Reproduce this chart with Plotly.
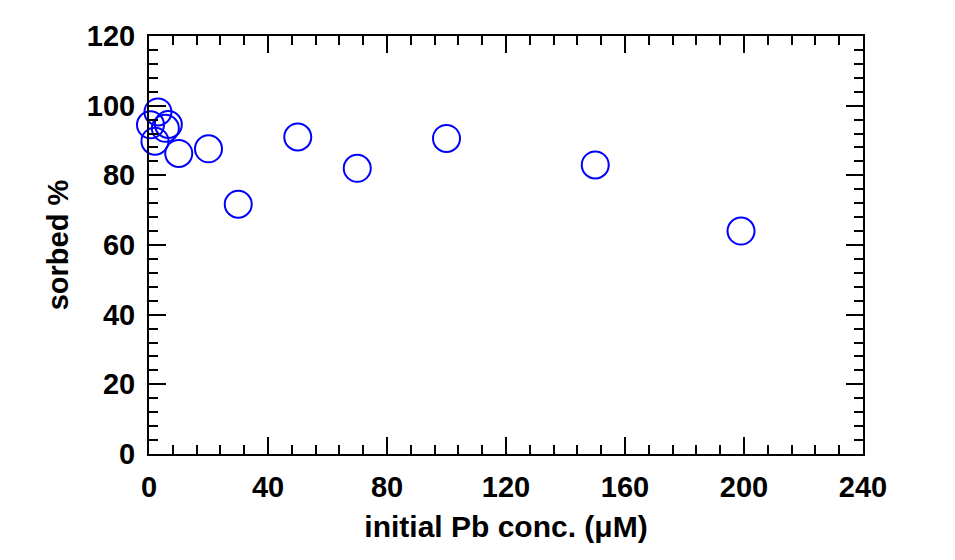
import plotly.graph_objects as go

conc = [0.5, 2, 3, 5.5, 6.5, 10, 20, 30, 50, 70, 100, 150, 199]
sorbed = [94.5, 89.8, 98.2, 93.5, 94.6, 86.3, 87.6, 71.7, 91.0, 82.0, 90.6, 83.0, 64.0]

x_ticks = [0, 40, 80, 120, 160, 200, 240]
y_ticks = [0, 20, 40, 60, 80, 100, 120]

FAM = "Liberation Sans, Arial, sans-serif"

fig = go.Figure()
fig.add_trace(go.Scatter(
    x=conc, y=sorbed, mode="markers",
    marker=dict(symbol="circle-open", size=27, color="#0000ff", line=dict(width=2, color="#0000ff")),
    showlegend=False, cliponaxis=False,
))

axis_common = dict(
    showline=True, linecolor="black", linewidth=2, mirror="ticks",
    ticks="inside", ticklen=17, tickwidth=1.5, tickcolor="black",
    showgrid=False, zeroline=False,
    tickfont=dict(family=FAM, size=29, color="black", weight="bold"),
)
fig.update_xaxes(
    range=[0, 240], tickvals=x_ticks, ticktext=[str(v) for v in x_ticks],
    ticklabelstandoff=6,
    minor=dict(dtick=8, ticks="inside", ticklen=9, tickwidth=1.5, tickcolor="black", showgrid=False),
    title=dict(text="initial Pb conc. (\u03bcM)", font=dict(family=FAM, size=30, color="black", weight="bold"), standoff=14),
    **axis_common,
)
fig.update_yaxes(
    range=[0, 120], tickvals=y_ticks, ticktext=[str(v) for v in y_ticks],
    ticklabelstandoff=6,
    minor=dict(dtick=4, ticks="inside", ticklen=9, tickwidth=1.5, tickcolor="black", showgrid=False),
    title=dict(text="sorbed %", font=dict(family=FAM, size=29, color="black", weight="bold"), standoff=10),
    **axis_common,
)
fig.update_layout(
    width=955, height=560,
    margin=dict(l=149, r=92, t=36, b=106),
    plot_bgcolor="white", paper_bgcolor="white",
    font=dict(family=FAM, size=29, color="black"),
)
fig.write_html("out.html")
